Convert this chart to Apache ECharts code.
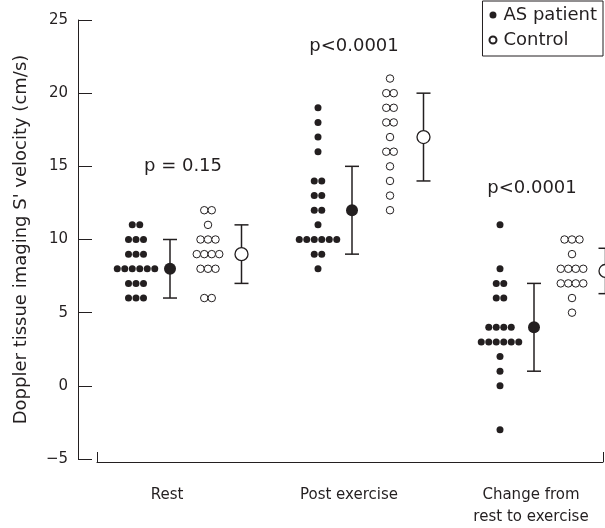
<!DOCTYPE html>
<html>
<head>
<meta charset="utf-8">
<script src="https://cdn.jsdelivr.net/npm/echarts@6/dist/echarts.min.js"></script>
<style>
  html, body { margin: 0; padding: 0; background: #fff; }
  #chart { width: 605px; height: 528px; }
</style>
</head>
<body>
<div id="chart"></div>
<script>
// data
var categories = ['Rest', 'Post exercise', 'Change from\nrest to exercise'];
var patientValues = [
    [11, 11, 10, 10, 10, 9, 9, 9, 8, 8, 8, 8, 8, 8, 7, 7, 7, 6, 6, 6],
    [19, 18, 17, 16, 14, 14, 13, 13, 12, 12, 11, 10, 10, 10, 10, 10, 10, 9, 9, 8],
    [11, 8, 7, 7, 6, 6, 4, 4, 4, 4, 3, 3, 3, 3, 3, 3, 2, 1, 0, -3]
];
var controlValues = [
    [12, 12, 11, 10, 10, 10, 9, 9, 9, 9, 8, 8, 8, 6, 6],
    [21, 20, 20, 19, 19, 18, 18, 17, 16, 16, 15, 14, 13, 12],
    [10, 10, 10, 9, 8, 8, 8, 8, 7, 7, 7, 7, 6, 5]
];
var patientMean = [8, 12, 4];
var patientSD = [2, 3, 3];
var controlMean = [9, 17, 7.85];
var controlSD = [2, 3, 1.55];
var pValues = ['p = 0.15', 'p<0.0001', 'p<0.0001'];

// layout (x in layout units along the grid)
var groupStep = 182, firstGroup = 39, dotGap = 7.5;
var offPatMean = 34, offCtrlDots = 72, offCtrlMean = 105.5, offLabel = 31;
var pPos = [[47, 15], [36, 23.2], [32, 13.5]];
var ink = '#231f20';
var font = 'DejaVu Sans';

function base(k) { return firstGroup + groupStep * k; }

// dot plot: stack equal values side by side, centred on the column
function dotPlot(values, cx) {
    var counts = {};
    values.forEach(function (v) { counts[v] = (counts[v] || 0) + 1; });
    var out = [];
    Object.keys(counts).forEach(function (key) {
        var n = counts[key];
        for (var j = 0; j < n; j++) {
            out.push([cx + (j - (n - 1) / 2) * dotGap, Number(key)]);
        }
    });
    return out;
}

var patDots = [], ctrlDots = [], patMeans = [], ctrlMeans = [], bars = [], pData = [];
categories.forEach(function (c, k) {
    patDots = patDots.concat(dotPlot(patientValues[k], base(k)));
    ctrlDots = ctrlDots.concat(dotPlot(controlValues[k], base(k) + offCtrlDots));
    patMeans.push([base(k) + offPatMean, patientMean[k]]);
    ctrlMeans.push([base(k) + offCtrlMean, controlMean[k]]);
    bars.push([base(k) + offPatMean, patientMean[k] - patientSD[k], patientMean[k] + patientSD[k]]);
    bars.push([base(k) + offCtrlMean, controlMean[k] - controlSD[k], controlMean[k] + controlSD[k]]);
    pData.push([base(k) + pPos[k][0], pPos[k][1], pValues[k]]);
});
var labelPos = categories.map(function (c, k) { return base(k) + offLabel; });

var myChart = echarts.init(document.getElementById('chart'));
var option = {
    animation: false,
    backgroundColor: '#fff',
    textStyle: { fontFamily: font, color: ink },
    grid: { left: 97, right: 2, top: 20, bottom: 69 },
    legend: {
        orient: 'vertical',
        right: 2,
        top: 1,
        padding: [5, 6, 7, 6],
        itemGap: 7,
        itemWidth: 7,
        itemHeight: 7,
        borderColor: ink,
        borderWidth: 1,
        data: ['AS patient', 'Control'],
        textStyle: { fontFamily: font, fontSize: 18, color: ink, padding: [0, 0, 0, 2] }
    },
    xAxis: {
        type: 'value',
        min: 0,
        max: 506,
        offset: 3,
        splitLine: { show: false },
        axisLine: { show: true, onZero: false, lineStyle: { color: ink, width: 1 } },
        axisTick: {
            show: true, inside: true, length: 10,
            customValues: [0, 506],
            lineStyle: { color: ink }
        },
        axisLabel: {
            customValues: labelPos,
            margin: 22,
            fontSize: 15,
            lineHeight: 22,
            color: ink,
            fontFamily: font,
            formatter: function (v) {
                var i = labelPos.indexOf(v);
                return i >= 0 ? categories[i] : '';
            }
        }
    },
    yAxis: {
        type: 'value',
        min: -5,
        max: 25,
        interval: 5,
        offset: 19,
        name: "Doppler tissue imaging S' velocity (cm/s)",
        nameLocation: 'middle',
        nameGap: 48,
        nameTextStyle: { fontSize: 18, color: ink, fontFamily: font },
        splitLine: { show: false },
        axisLine: { show: true, onZero: false, lineStyle: { color: ink, width: 1 } },
        axisTick: { show: true, inside: true, length: 14, lineStyle: { color: ink } },
        axisLabel: {
            margin: 10, fontSize: 15, color: ink, fontFamily: font,
            formatter: function (v) { return v < 0 ? '\u2212' + Math.abs(v) : String(v); }
        }
    },
    series: [
        {
            name: 'AS patient',
            type: 'scatter',
            symbol: 'circle',
            symbolSize: 7,
            itemStyle: { color: ink, opacity: 1 },
            data: patDots
        },
        {
            name: 'Control',
            type: 'scatter',
            symbol: 'circle',
            symbolSize: 7.5,
            itemStyle: { color: '#fff', borderColor: ink, borderWidth: 1, opacity: 1 },
            data: ctrlDots
        },
        {
            name: 'errorbars',
            type: 'custom',
            silent: true,
            clip: false,
            renderItem: function (params, api) {
                var x = api.value(0);
                var lo = api.coord([x, api.value(1)]);
                var hi = api.coord([x, api.value(2)]);
                var w = 7;
                var st = { stroke: ink, lineWidth: 1.5 };
                return {
                    type: 'group',
                    children: [
                        { type: 'line', shape: { x1: lo[0], y1: lo[1], x2: hi[0], y2: hi[1] }, style: st },
                        { type: 'line', shape: { x1: hi[0] - w, y1: hi[1], x2: hi[0] + w, y2: hi[1] }, style: st },
                        { type: 'line', shape: { x1: lo[0] - w, y1: lo[1], x2: lo[0] + w, y2: lo[1] }, style: st }
                    ]
                };
            },
            data: bars,
            z: 2
        },
        {
            name: 'AS patient',
            type: 'scatter',
            symbol: 'circle',
            symbolSize: 12,
            itemStyle: { color: ink, opacity: 1 },
            data: patMeans,
            z: 3
        },
        {
            name: 'Control',
            type: 'scatter',
            symbol: 'circle',
            symbolSize: 13,
            clip: false,
            itemStyle: { color: '#fff', borderColor: ink, borderWidth: 1.3, opacity: 1 },
            data: ctrlMeans,
            z: 3
        },
        {
            name: 'pvalues',
            type: 'scatter',
            symbolSize: 0,
            silent: true,
            itemStyle: { opacity: 1 },
            label: {
                show: true,
                position: 'inside',
                fontSize: 18,
                color: ink,
                fontFamily: font,
                formatter: function (p) { return p.data[2]; }
            },
            data: pData
        }
    ]
};
myChart.setOption(option);
</script>
</body>
</html>
